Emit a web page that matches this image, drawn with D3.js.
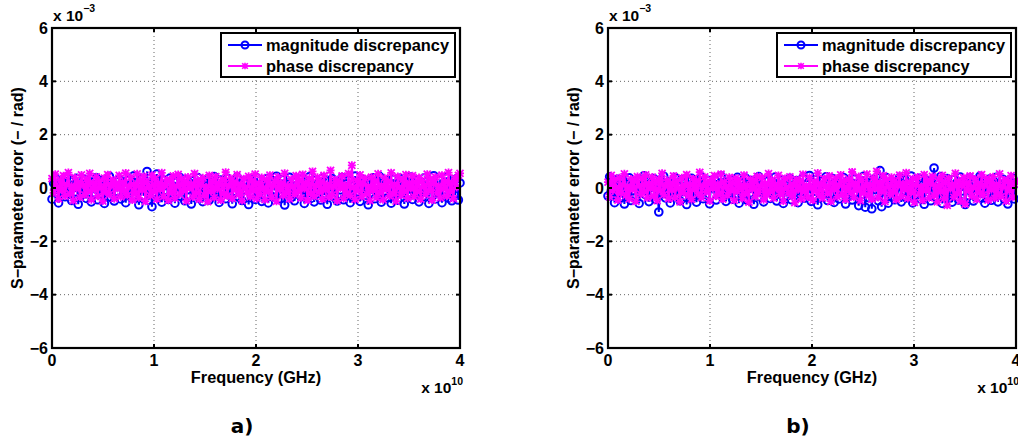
<!DOCTYPE html>
<html>
<head>
<meta charset="utf-8">
<script src="https://cdn.jsdelivr.net/npm/d3@7"></script>
<style>
  body { margin: 0; background: #fff; }
  text { font-family: "Liberation Sans", Arial, sans-serif; font-weight: bold; }
</style>
</head>
<body>
<div class="graph"></div>
<script>
// values are in units of 1e-3, frequency axis in units of 1e10 Hz
var xTicks = [0, 1, 2, 3, 4];
var yTicks = [-6, -4, -2, 0, 2, 4, 6];
var panelLabels = ["a)", "b)"];
var legendLabels = ["magnitude discrepancy", "phase discrepancy"];

var magA = [
  -0.42, 0.18, -0.05, 0.31, -0.56, -0.12, 0.24, 0.02, -0.33, 0.41, -0.21, 0.09, -0.47, 0.27, -0.15, 0.36, -0.61, 0.05, -0.28, 0.14, 0.33, -0.39, -0.02, 0.22, -0.52,
  0.11, -0.18, 0.38, -0.44, 0.07, -0.26, 0.29, -0.58, 0.16, -0.09, 0.44, -0.35, 0.01, -0.49, 0.25, -0.13, 0.34, -0.41, 0.19, -0.04, -0.55, 0.28, -0.22, 0.12, -0.37,
  0.46, -0.10, 0.21, -0.63, 0.08, 0.35, -0.29, -0.01, 0.62, -0.46, 0.15, -0.70, 0.26, -0.19, 0.52, -0.36, 0.04, -0.53, 0.30, -0.08, 0.17, -0.43, 0.37, -0.24, 0.06,
  -0.57, 0.23, -0.14, 0.40, -0.32, 0.10, -0.48, 0.32, -0.06, 0.19, -0.60, 0.27, -0.20, 0.03, 0.39, -0.38, 0.13, -0.51, 0.22, -0.11, 0.34, -0.45, 0.05, -0.27, 0.43,
  -0.16, 0.08, -0.54, 0.30, -0.03, 0.20, -0.40, 0.36, -0.23, 0.00, -0.59, 0.24, -0.12, 0.41, -0.34, 0.14, -0.47, 0.28, -0.07, 0.18, -0.62, 0.33, -0.19, 0.06, -0.43,
  0.38, -0.25, 0.11, -0.50, 0.21, -0.02, 0.35, -0.56, 0.15, -0.31, 0.27, -0.09, 0.44, -0.42, 0.04, -0.21, 0.31, -0.64, 0.18, -0.14, 0.40, -0.36, 0.09, -0.48, 0.25,
  -0.05, 0.34, -0.30, 0.13, -0.58, 0.22, -0.17, 0.42, -0.39, 0.07, -0.52, 0.29, -0.10, 0.19, -0.45, 0.37, -0.26, 0.02, -0.61, 0.26, -0.13, 0.35, -0.33, 0.12, -0.49,
  0.20, -0.07, 0.39, -0.44, 0.16, -0.22, 0.30, -0.55, 0.08, -0.35, 0.45, -0.15, 0.23, -0.50, 0.01, 0.32, -0.28, 0.14, -0.63, 0.27, -0.04, 0.38, -0.40, 0.10, -0.18,
  0.43, -0.53, 0.17, -0.11, 0.28, -0.37, 0.05, -0.57, 0.33, -0.20, 0.12, -0.46, 0.36, -0.08, 0.21, -0.60, 0.25, -0.29, 0.03, 0.41, -0.43, 0.15, -0.16, 0.31, -0.52,
  0.09, -0.34, 0.37, -0.12, 0.24, -0.58, 0.18, -0.25, 0.46, -0.41, 0.06, -0.19, 0.32, -0.55, 0.13, -0.06, 0.40, -0.38, 0.22, -0.48, 0.11, -0.27, 0.35, -0.45, 0.19];

var phaseA = [
  0.35, -0.18, 0.52, 0.04, -0.41, 0.27, -0.09, 0.46, -0.30, 0.13, 0.58, -0.22, 0.08, -0.47, 0.39, -0.03, 0.21, -0.35, 0.49, 0.11, -0.26, 0.33, -0.12, 0.55, -0.44,
  0.19, -0.06, 0.42, -0.31, 0.25, 0.01, -0.49, 0.37, -0.15, 0.50, -0.24, 0.09, 0.30, -0.40, 0.16, -0.02, 0.47, -0.33, 0.22, -0.11, 0.56, -0.28, 0.06, 0.40, -0.45,
  0.14, -0.20, 0.53, -0.37, 0.28, -0.08, 0.44, -0.50, 0.23, 0.03, -0.29, 0.48, -0.14, 0.36, -0.42, 0.18, -0.05, 0.57, -0.32, 0.10, 0.31, -0.46, 0.26, -0.16, 0.45,
  -0.38, 0.07, 0.51, -0.23, 0.34, -0.10, 0.20, -0.48, 0.41, -0.01, 0.15, -0.34, 0.54, -0.19, 0.29, -0.43, 0.12, 0.38, -0.27, 0.05, -0.51, 0.47, -0.13, 0.24, -0.36,
  0.43, -0.04, 0.17, -0.45, 0.32, -0.21, 0.59, -0.30, 0.09, 0.37, -0.39, 0.21, -0.07, 0.50, -0.25, 0.13, -0.47, 0.35, 0.02, -0.17, 0.44, -0.33, 0.27, -0.10, 0.52,
  -0.40, 0.16, -0.22, 0.39, 0.00, -0.44, 0.30, -0.13, 0.48, -0.35, 0.11, 0.25, -0.50, 0.42, -0.06, 0.19, -0.29, 0.55, -0.18, 0.08, -0.41, 0.33, 0.05, -0.24, 0.46,
  -0.12, 0.28, -0.37, 0.51, -0.03, 0.18, -0.46, 0.36, -0.20, 0.62, -0.31, 0.10, 0.40, -0.15, 0.23, -0.42, 0.47, -0.08, 0.14, -0.34, 0.66, -0.26, 0.07, 0.32, -0.48,
  0.21, -0.01, 0.45, -0.39, 0.12, -0.19, 0.54, -0.28, 0.85, 0.03, -0.43, 0.29, -0.11, 0.49, -0.33, 0.17, 0.36, -0.22, 0.06, -0.47, 0.41, -0.09, 0.26, -0.36, 0.53,
  -0.16, 0.09, -0.44, 0.38, -0.05, 0.24, -0.30, 0.57, -0.21, 0.14, -0.49, 0.43, 0.01, -0.27, 0.31, -0.12, 0.50, -0.38, 0.19, -0.02, 0.46, -0.32, 0.22, -0.14, 0.39,
  -0.42, 0.27, 0.05, -0.25, 0.52, -0.10, 0.34, -0.45, 0.16, 0.42, -0.18, 0.08, -0.37, 0.48, -0.04, 0.25, -0.30, 0.58, -0.13, 0.20, -0.40, 0.37, 0.02, 0.47, 0.55];

var magB = [
  -0.30, 0.42, -0.12, 0.20, -0.55, 0.08, 0.33, -0.41, -0.02, 0.27, -0.60, 0.15, -0.22, 0.38, -0.47, 0.05, 0.25, -0.35, 0.12, -0.58, 0.30, -0.08, 0.46, -0.26, 0.03,
  -0.51, 0.18, -0.15, 0.35, -0.43, 0.10, -0.90, 0.28, -0.19, 0.44, -0.37, 0.02, 0.22, -0.56, 0.14, -0.06, 0.39, -0.29, 0.07, -0.48, 0.31, -0.13, 0.19, -0.62, 0.26,
  -0.04, 0.36, -0.33, 0.11, -0.53, 0.23, -0.16, 0.41, -0.40, 0.06, -0.25, 0.29, -0.59, 0.17, 0.00, 0.34, -0.45, 0.13, -0.21, 0.45, -0.36, 0.09, -0.50, 0.24, -0.10,
  0.32, -0.42, 0.16, -0.07, 0.40, -0.57, 0.21, -0.28, 0.05, 0.37, -0.46, 0.12, -0.18, 0.28, -0.61, 0.19, -0.03, 0.43, -0.34, 0.08, -0.52, 0.26, -0.14, 0.33, -0.39,
  0.04, -0.23, 0.41, -0.49, 0.15, -0.09, 0.30, -0.58, 0.22, -0.31, 0.10, 0.36, -0.44, 0.01, -0.17, 0.27, -0.55, 0.18, -0.06, 0.39, -0.38, 0.13, -0.27, 0.47, -0.50,
  0.20, -0.12, 0.32, -0.63, 0.09, -0.35, 0.25, -0.02, 0.42, -0.47, 0.14, -0.20, 0.35, -0.54, 0.06, 0.28, -0.41, 0.17, -0.08, 0.38, -0.60, 0.23, -0.30, 0.11, -0.45,
  0.34, -0.16, 0.05, -0.66, 0.29, -0.24, 0.44, -0.72, 0.12, -0.36, 0.21, -0.78, 0.33, -0.05, 0.18, -0.48, 0.65, -0.70, 0.26, -0.14, 0.39, -0.57, 0.08, -0.32, 0.24,
  -0.44, 0.15, -0.20, 0.40, -0.52, 0.03, 0.31, -0.37, 0.11, -0.09, 0.45, -0.56, 0.22, -0.27, 0.07, 0.36, -0.42, 0.16, -0.61, 0.30, -0.04, 0.25, -0.48, 0.10, 0.75,
  -0.33, 0.19, -0.15, 0.43, -0.58, 0.27, -0.06, 0.35, -0.40, 0.02, -0.53, 0.32, -0.19, 0.14, -0.45, 0.41, -0.11, 0.23, -0.62, 0.17, -0.28, 0.37, -0.01, -0.49, 0.29,
  -0.22, 0.08, 0.44, -0.38, 0.13, -0.57, 0.26, -0.13, 0.34, -0.46, 0.05, -0.30, 0.40, -0.52, 0.18, -0.08, 0.33, -0.43, 0.21, -0.60, 0.12, -0.25, 0.36, -0.41, 0.16];

var phaseB = [
  0.22, -0.33, 0.47, -0.10, 0.31, 0.02, -0.45, 0.38, -0.19, 0.12, 0.53, -0.28, 0.06, -0.41, 0.34, -0.06, 0.26, -0.50, 0.43, 0.09, -0.23, 0.36, -0.14, 0.49, -0.37,
  0.16, -0.02, 0.41, -0.30, 0.21, -0.47, 0.33, -0.11, 0.55, -0.25, 0.07, 0.29, -0.40, 0.18, -0.08, 0.45, -0.35, 0.24, 0.00, -0.52, 0.38, -0.17, 0.11, 0.50, -0.29,
  0.13, -0.43, 0.35, -0.05, 0.27, -0.22, 0.59, -0.36, 0.08, 0.42, -0.15, 0.20, -0.48, 0.31, -0.01, 0.46, -0.31, 0.15, -0.20, 0.52, -0.42, 0.23, 0.04, -0.27, 0.40,
  -0.09, 0.19, -0.46, 0.37, -0.13, 0.28, 0.05, -0.39, 0.48, -0.21, 0.10, -0.53, 0.33, -0.04, 0.25, -0.32, 0.44, -0.16, 0.07, 0.39, -0.44, 0.17, -0.26, 0.54, -0.12,
  0.30, -0.38, 0.12, -0.03, 0.47, -0.24, 0.20, -0.49, 0.36, 0.01, -0.18, 0.42, -0.30, 0.14, -0.55, 0.32, -0.07, 0.26, -0.41, 0.51, -0.14, 0.09, -0.34, 0.40, 0.03,
  -0.46, 0.24, -0.11, 0.56, -0.27, 0.15, -0.38, 0.35, 0.06, -0.20, 0.45, -0.50, 0.19, -0.06, 0.37, -0.33, 0.11, 0.49, -0.24, 0.27, -0.43, 0.02, 0.33, -0.16, 0.60,
  -0.35, 0.18, -0.08, 0.43, -0.47, 0.28, -0.19, 0.07, 0.52, -0.29, 0.13, -0.42, 0.38, -0.02, 0.62, -0.36, 0.21, -0.12, 0.46, -0.51, 0.30, 0.04, -0.25, 0.40, -0.15,
  0.26, -0.44, 0.09, 0.48, -0.31, 0.16, -0.05, 0.57, -0.39, 0.22, -0.17, 0.35, -0.54, 0.12, 0.41, -0.23, 0.05, -0.46, 0.50, -0.10, 0.29, -0.37, 0.18, 0.44, -0.28,
  0.08, -0.52, 0.33, -0.14, 0.47, -0.40, 0.21, -0.65, 0.37, -0.03, 0.14, -0.34, 0.55, -0.21, 0.26, -0.48, 0.10, 0.39, -0.60, 0.19, -0.09, 0.45, -0.30, 0.03, 0.34,
  -0.43, 0.17, -0.18, 0.50, -0.26, 0.11, 0.36, -0.45, 0.23, -0.07, 0.42, -0.38, 0.14, -0.22, 0.53, -0.32, 0.06, 0.31, -0.49, 0.24, -0.11, 0.46, -0.35, 0.15, 0.28];

var W = 1018, H = 445;
var BLUE = "#0000ff", MAGENTA = "#ff00ff";
var STAR = "M-3.5,-3.5L3.5,3.5M-3.5,3.5L3.5,-3.5M0,-4L0,4M-4,0L4,0";

var svg = d3.select(".graph").append("svg")
  .attr("width", W).attr("height", H);

function fmtMinus(v) { return v < 0 ? "\u2212" + Math.abs(v) : "" + v; }

function drawPanel(left, mag, phase, label) {
  var top = 28, pw = 408, ph = 320;
  var x = d3.scaleLinear().domain([0, 4]).range([left, left + pw]);
  var y = d3.scaleLinear().domain([-6, 6]).range([top + ph, top]);
  var g = svg.append("g");

  // dotted grid
  g.selectAll(".gx").data(xTicks.slice(1, -1)).enter().append("line")
    .attr("x1", x).attr("x2", x).attr("y1", top).attr("y2", top + ph)
    .attr("stroke", "#666").attr("stroke-width", 1).attr("stroke-dasharray", "1,3");
  g.selectAll(".gy").data(yTicks.slice(1, -1)).enter().append("line")
    .attr("y1", y).attr("y2", y).attr("x1", left).attr("x2", left + pw)
    .attr("stroke", "#666").attr("stroke-width", 1).attr("stroke-dasharray", "1,3");

  function pts(arr) {
    var n = arr.length;
    return arr.map(function(v, i) { return [i * 4 / (n - 1), v]; });
  }
  var line = d3.line().x(function(d) { return x(d[0]); }).y(function(d) { return y(d[1]); });

  // magnitude series: blue circles
  var m = pts(mag);
  g.append("path").datum(m).attr("d", line)
    .attr("fill", "none").attr("stroke", BLUE).attr("stroke-width", 2);
  g.selectAll(".mc").data(m).enter().append("circle")
    .attr("cx", function(d) { return x(d[0]); })
    .attr("cy", function(d) { return y(d[1]); })
    .attr("r", 3.8).attr("fill", "none").attr("stroke", BLUE).attr("stroke-width", 2);

  // phase series: magenta stars
  var p = pts(phase);
  g.append("path").datum(p).attr("d", line)
    .attr("fill", "none").attr("stroke", MAGENTA).attr("stroke-width", 2);
  g.selectAll(".pc").data(p).enter().append("path")
    .attr("transform", function(d) { return "translate(" + x(d[0]) + "," + y(d[1]) + ")"; })
    .attr("d", STAR).attr("stroke", MAGENTA).attr("stroke-width", 1.8);

  // axes box and inward ticks
  g.append("rect").attr("x", left).attr("y", top).attr("width", pw).attr("height", ph)
    .attr("fill", "none").attr("stroke", "#000").attr("stroke-width", 2.2);
  xTicks.forEach(function(t) {
    g.append("line").attr("x1", x(t)).attr("x2", x(t)).attr("y1", top + ph).attr("y2", top + ph - 4)
      .attr("stroke", "#000").attr("stroke-width", 2);
    g.append("line").attr("x1", x(t)).attr("x2", x(t)).attr("y1", top).attr("y2", top + 4)
      .attr("stroke", "#000").attr("stroke-width", 2);
    g.append("text").attr("x", x(t)).attr("y", top + ph + 18)
      .attr("text-anchor", "middle").attr("font-size", 16).text(t);
  });
  yTicks.forEach(function(t) {
    g.append("line").attr("x1", left).attr("x2", left + 4).attr("y1", y(t)).attr("y2", y(t))
      .attr("stroke", "#000").attr("stroke-width", 2);
    g.append("line").attr("x1", left + pw).attr("x2", left + pw - 4).attr("y1", y(t)).attr("y2", y(t))
      .attr("stroke", "#000").attr("stroke-width", 2);
    g.append("text").attr("x", left - 4).attr("y", y(t) + 5.5)
      .attr("text-anchor", "end").attr("font-size", 16).text(fmtMinus(t));
  });

  // exponent labels
  var e1 = g.append("text").attr("x", left + 1).attr("y", 21).attr("font-size", 15.5);
  e1.append("tspan").text("x 10");
  e1.append("tspan").attr("dy", -9).attr("font-size", 10.5).text("\u22123");
  var e2 = g.append("text").attr("x", left + pw + 3).attr("y", 393)
    .attr("text-anchor", "end").attr("font-size", 15.5);
  e2.append("tspan").text("x 10");
  e2.append("tspan").attr("dy", -8).attr("font-size", 10.5).text("10");

  g.append("text").attr("x", left + pw / 2).attr("y", 383)
    .attr("text-anchor", "middle").attr("font-size", 16.3).text("Frequency (GHz)");
  g.append("text").attr("transform", "translate(" + (left - 29) + "," + (top + ph / 2) + ") rotate(-90)")
    .attr("text-anchor", "middle").attr("font-size", 16).text("S\u2212parameter error (\u2212 / rad)");

  g.append("text").attr("x", left + pw / 2 - 14).attr("y", 433)
    .attr("text-anchor", "middle").attr("font-size", 20)
    .style("font-family", "'DejaVu Sans', sans-serif").text(label);

  // legend
  var lx = left + pw - 239, ly = 33;
  var lg = g.append("g");
  lg.append("rect").attr("x", lx).attr("y", ly).attr("width", 234).attr("height", 44)
    .attr("fill", "#fff").attr("stroke", "#000").attr("stroke-width", 2);
  [BLUE, MAGENTA].forEach(function(c, i) {
    var yy = ly + 12 + i * 21;
    lg.append("line").attr("x1", lx + 7).attr("x2", lx + 41).attr("y1", yy).attr("y2", yy)
      .attr("stroke", c).attr("stroke-width", 2);
    if (i === 0) {
      lg.append("circle").attr("cx", lx + 24).attr("cy", yy).attr("r", 3.5)
        .attr("fill", "none").attr("stroke", c).attr("stroke-width", 2);
    } else {
      lg.append("path").attr("transform", "translate(" + (lx + 24) + "," + yy + ") scale(0.8)")
        .attr("d", STAR).attr("stroke", c).attr("stroke-width", 2);
    }
    lg.append("text").attr("x", lx + 45).attr("y", yy + 5.5).attr("font-size", 16.4).text(legendLabels[i]);
  });
}

drawPanel(52, magA, phaseA, panelLabels[0]);
drawPanel(608, magB, phaseB, panelLabels[1]);
</script>
</body>
</html>
